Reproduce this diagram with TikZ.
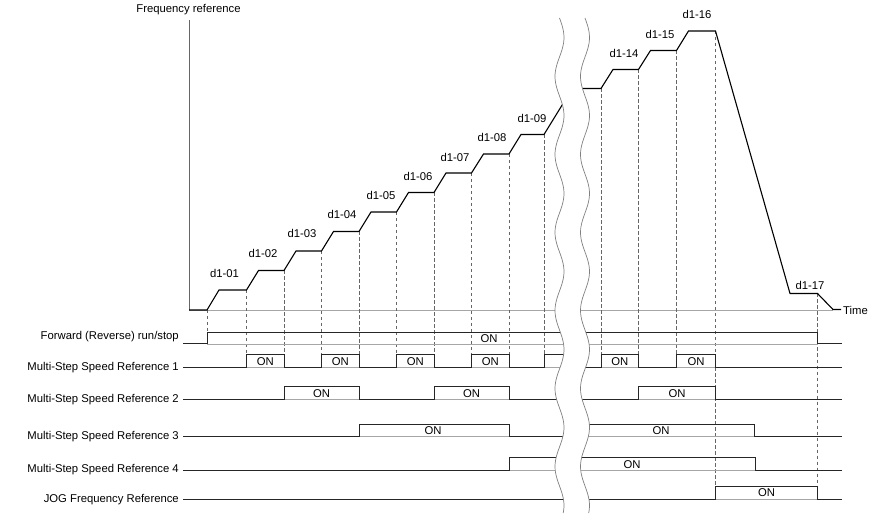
\documentclass[tikz,border=0pt]{standalone}
\usepackage{fontspec}
\setmainfont{Liberation Sans}
\usepackage{tikz}

\begin{document}
\begin{tikzpicture}[x=1pt,y=-1pt,
    curve/.style={line width=1.1pt,black},
    sig/.style={line width=1pt,black!85},
    base/.style={line width=0.8pt,black!35},
    guide/.style={line width=0.6pt,black!60,dash pattern=on 3.5pt off 2.5pt},
    brk/.style={line width=0.7pt,black!50},
    lbl/.style={font=\fontsize{11.3}{13}\selectfont,inner sep=0pt}]
    \useasboundingbox (0,0) rectangle (881,521);

    \coordinate (Origin) at (189,310);
    \coordinate (FTop) at (189,20);
    \coordinate (TEnd) at (833,310);

    % axes
    \draw [base,black!60] (FTop) -- (Origin);
    \draw [base] (Origin) -- (TEnd);
    \node [lbl] (freq) at (188.5,9.5) {Frequency reference};
    \node [lbl,anchor=west] (time) at (843,310.5) {Time};

    % guide lines
    \draw [guide] (207,310) -- (207,333)
        (246.5,290) -- (246.5,354.5) (284,270.5) -- (284,354.5)
        (321.5,251) -- (321.5,354.5) (359,231.5) -- (359,354.5)
        (396.5,212) -- (396.5,354.5) (434,192.5) -- (434,354.5)
        (471.5,173) -- (471.5,354.5) (509,154) -- (509,354.5)
        (544,134.5) -- (544,354.5);
    \draw [guide] (601,88.5) -- (601,354.5) (638.5,69.5) -- (638.5,354.5)
        (676.5,50.5) -- (676.5,354.5) (715.5,31) -- (715.5,486)
        (817.5,293.5) -- (817.5,499.5);

    % frequency reference
    \draw [curve] (Origin) -- (207,310) -- (219,290) -- (246.5,290)
        -- (258.5,270.5) -- (284,270.5) -- (296,251) -- (321.5,251)
        -- (333.5,231.5) -- (359,231.5) -- (371,212) -- (396.5,212)
        -- (408.5,192.5) -- (434,192.5) -- (446,173) -- (471.5,173)
        -- (483.5,154) -- (509,154) -- (521,134.5) -- (544,134.5)
        -- (566,98.75);
    \draw [curve] (575,88.5) -- (601,88.5) -- (613,69.5) -- (638.5,69.5)
        -- (650.5,50.5) -- (676.5,50.5) -- (688.5,31) -- (715.5,31)
        -- (790,293.5) -- (817.5,293.5) -- (833,309.5) -- (841,309.5);

    \node [lbl] (d101) at (224.5,273) {d1-01};
    \node [lbl] (d102) at (263,253.5) {d1-02};
    \node [lbl] (d103) at (302,233) {d1-03};
    \node [lbl] (d104) at (342,214) {d1-04};
    \node [lbl] (d105) at (381,195) {d1-05};
    \node [lbl] (d106) at (418,176) {d1-06};
    \node [lbl] (d107) at (455,157) {d1-07};
    \node [lbl] (d108) at (492,137) {d1-08};
    \node [lbl] (d109) at (532,118) {d1-09};
    \node [lbl] (d114) at (624,53) {d1-14};
    \node [lbl] (d115) at (660,34) {d1-15};
    \node [lbl] (d116) at (697,14) {d1-16};
    \node [lbl] (d117) at (810,285) {d1-17};

    % forward (reverse) run/stop
    \node [lbl,anchor=east] (fwd) at (179,337) {Forward (Reverse) run/stop};
    \draw [base] (207,344) -- (817.5,344);
    \draw [sig] (183,344) -- (207,344) -- (207,333) -- (817.5,333)
        -- (817.5,344) -- (841.5,344);
    \node [lbl] (fwdon) at (489,339) {ON};

    % multi-step speed reference 1
    \node [lbl,anchor=east] (ms1) at (179,367.5) {Multi-Step Speed Reference 1};
    \draw [base] (183,367.5) -- (841.5,367.5);
    \draw [sig] (183,367.5) -- (246.5,367.5) -- (246.5,354.5) -- (284,354.5)
        -- (284,367.5) -- (321.5,367.5) -- (321.5,354.5) -- (359,354.5)
        -- (359,367.5) -- (396.5,367.5) -- (396.5,354.5) -- (434,354.5)
        -- (434,367.5) -- (471.5,367.5) -- (471.5,354.5) -- (509,354.5)
        -- (509,367.5) -- (544,367.5) -- (544,354.5) -- (570,354.5);
    \draw [sig] (575,367.5) -- (601,367.5) -- (601,354.5) -- (638.5,354.5)
        -- (638.5,367.5) -- (676.5,367.5) -- (676.5,354.5) -- (715.5,354.5)
        -- (715.5,367.5) -- (841.5,367.5);
    \node [lbl] (ms1on1) at (265.25,361.5) {ON};
    \node [lbl] (ms1on2) at (340.25,361.5) {ON};
    \node [lbl] (ms1on3) at (415.25,361.5) {ON};
    \node [lbl] (ms1on4) at (490.25,361.5) {ON};
    \node [lbl] (ms1on5) at (619.75,361.5) {ON};
    \node [lbl] (ms1on6) at (696,361.5) {ON};

    % multi-step speed reference 2
    \node [lbl,anchor=east] (ms2) at (179,399.5) {Multi-Step Speed Reference 2};
    \draw [base] (183,399.5) -- (841.5,399.5);
    \draw [sig] (183,399.5) -- (284,399.5) -- (284,386.5) -- (359,386.5)
        -- (359,399.5) -- (434,399.5) -- (434,386.5) -- (509,386.5)
        -- (509,399.5) -- (570,399.5);
    \draw [sig] (575,399.5) -- (638.5,399.5) -- (638.5,386.5) -- (715.5,386.5)
        -- (715.5,399.5) -- (841.5,399.5);
    \node [lbl] (ms2on1) at (321.5,393.5) {ON};
    \node [lbl] (ms2on2) at (471.5,393.5) {ON};
    \node [lbl] (ms2on3) at (677,393.5) {ON};

    % multi-step speed reference 3
    \node [lbl,anchor=east] (ms3) at (179,436.5) {Multi-Step Speed Reference 3};
    \draw [base] (183,436) -- (841.5,436);
    \draw [sig] (183,436) -- (359,436) -- (359,424) -- (509,424)
        -- (509,436) -- (570,436);
    \draw [sig] (575,424) -- (754,424) -- (754,436) -- (841.5,436);
    \node [lbl] (ms3on1) at (433,430.5) {ON};
    \node [lbl] (ms3on2) at (661,430.5) {ON};

    % multi-step speed reference 4
    \node [lbl,anchor=east] (ms4) at (179,469.5) {Multi-Step Speed Reference 4};
    \draw [base] (183,470) -- (841.5,470);
    \draw [sig] (183,470) -- (509,470) -- (509,457.5) -- (570,457.5);
    \draw [sig] (575,457.5) -- (755,457.5) -- (755,470) -- (841.5,470);
    \node [lbl] (ms4on) at (632,464.5) {ON};

    % jog frequency reference
    \node [lbl,anchor=east] (jog) at (179,500) {JOG Frequency Reference};
    \draw [base] (183,499.5) -- (841.5,499.5);
    \draw [sig] (183,499.5) -- (715.5,499.5) -- (715.5,486) -- (817.5,486)
        -- (817.5,499.5) -- (841.5,499.5);
    \node [lbl] (jogon) at (766.5,493) {ON};

    % time break
    \fill [white] plot [domain=18:513,samples=160]
        ({559.5+4.5*sin((\x-18)*4.6154)},\x)
        -- plot [domain=513:18,samples=160]
        ({585+4.5*sin((\x-18)*4.6154)},\x) -- cycle;
    \draw [brk] plot [domain=18:513,samples=160,smooth]
        ({559.5+4.5*sin((\x-18)*4.6154)},\x);
    \draw [brk] plot [domain=18:513,samples=160,smooth]
        ({585+4.5*sin((\x-18)*4.6154)},\x);
\end{tikzpicture}
\end{document}
